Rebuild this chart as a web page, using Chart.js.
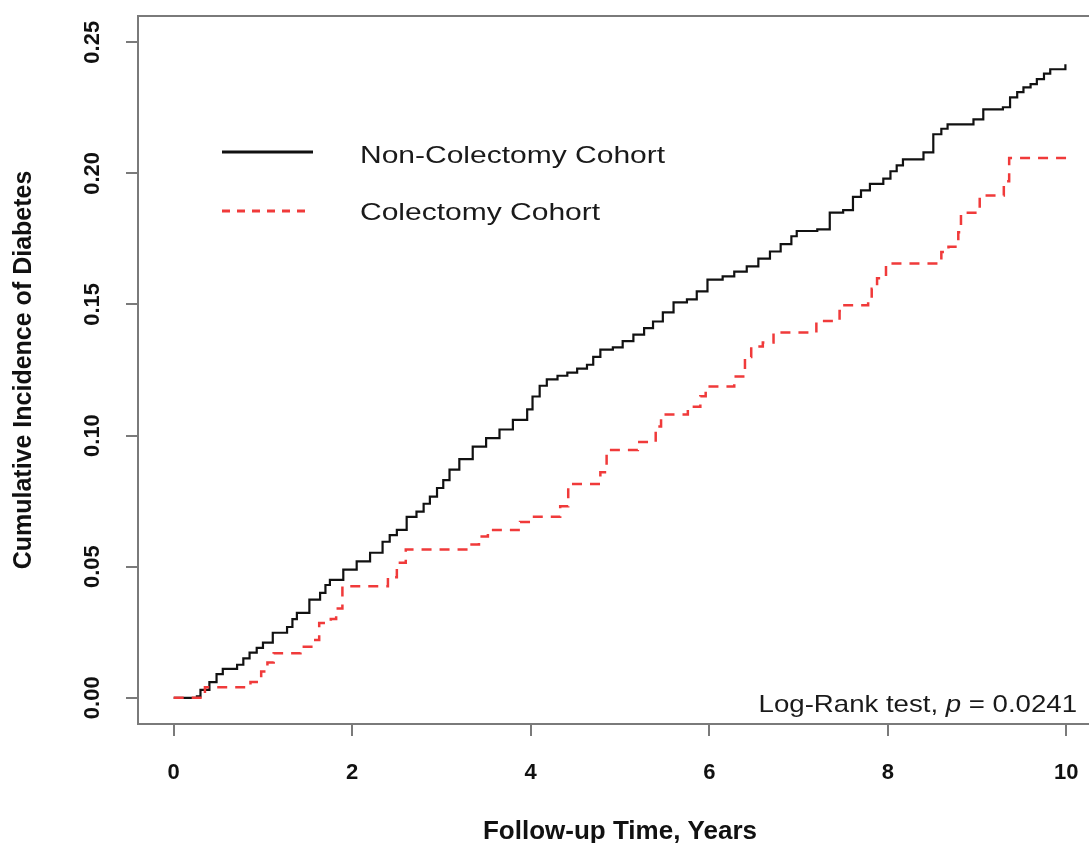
<!DOCTYPE html>
<html>
<head>
<meta charset="utf-8">
<title>Cumulative Incidence of Diabetes</title>
<script src="https://cdn.jsdelivr.net/npm/chart.js@4.4.1/dist/chart.umd.min.js"></script>
<style>
  html, body { margin: 0; padding: 0; background: #fff; overflow: hidden; }
  /* a bit wider than the window: the right edge of the plot box is cut off, as in the source figure */
  #kmChart { display: block; }
</style>
</head>
<body>
<canvas id="kmChart" width="1110" height="843"></canvas>
<script>
// follow-up time (years) and cumulative incidence
const nonColectomyTime = [0, 0.26, 0.30, 0.40, 0.48, 0.55, 0.71, 0.78, 0.85, 0.93, 1.00, 1.11, 1.27, 1.33, 1.38,
  1.52, 1.64, 1.70, 1.75, 1.90, 2.05, 2.20, 2.34, 2.42, 2.50, 2.61, 2.72, 2.80, 2.87, 2.95, 3.02, 3.09, 3.20,
  3.35, 3.50, 3.65, 3.80, 3.96, 4.02, 4.10, 4.18, 4.30, 4.41, 4.52, 4.63, 4.70, 4.78, 4.92, 5.03, 5.15, 5.27,
  5.37, 5.48, 5.60, 5.75, 5.86, 5.98, 6.15, 6.28, 6.42, 6.55, 6.68, 6.80, 6.92, 6.98, 7.21, 7.35, 7.50, 7.61,
  7.70, 7.80, 7.95, 8.03, 8.10, 8.17, 8.40, 8.51, 8.60, 8.67, 8.96, 9.07, 9.29, 9.37, 9.45, 9.52, 9.60, 9.67,
  9.75, 9.82, 9.96, 9.99];
const nonColectomyInc = [0, 0.0005, 0.003, 0.006, 0.009, 0.011, 0.0126, 0.015, 0.0172, 0.019, 0.021, 0.0248, 0.027, 0.030, 0.0324,
  0.0374, 0.040, 0.043, 0.045, 0.0489, 0.052, 0.0553, 0.0595, 0.062, 0.064, 0.069, 0.071, 0.074, 0.0767, 0.080, 0.083, 0.087, 0.091,
  0.0958, 0.099, 0.1023, 0.106, 0.110, 0.1149, 0.119, 0.1214, 0.1228, 0.124, 0.1255, 0.127, 0.130, 0.1328, 0.1336, 0.136, 0.1385, 0.141,
  0.1435, 0.147, 0.1508, 0.1519, 0.155, 0.1595, 0.1607, 0.1625, 0.1645, 0.1675, 0.1702, 0.173, 0.176, 0.178, 0.1786, 0.185, 0.186, 0.191,
  0.1935, 0.196, 0.198, 0.2008, 0.203, 0.2053, 0.208, 0.2149, 0.217, 0.2187, 0.2206, 0.2244, 0.2252, 0.229, 0.231, 0.2328, 0.234, 0.2359,
  0.238, 0.2397, 0.2397, 0.2416];

const colectomyTime = [0, 0.35, 0.86, 0.98, 1.05, 1.12, 1.42, 1.56, 1.63, 1.76, 1.82, 1.89, 2.40, 2.50, 2.60,
  3.30, 3.42, 3.52, 3.88, 4.00, 4.33, 4.42, 4.78, 4.85, 5.20, 5.40, 5.46, 5.76, 5.90, 5.96, 6.28, 6.40, 6.47,
  6.60, 6.72, 7.20, 7.46, 7.50, 7.78, 7.82, 7.88, 7.98, 8.60, 8.68, 8.79, 8.82, 9.03, 9.30, 9.36, 10.0];
const colectomyInc = [0, 0.004, 0.006, 0.010, 0.0135, 0.017, 0.0195, 0.022, 0.0285, 0.030, 0.034, 0.0425, 0.046, 0.0515, 0.0565,
  0.0585, 0.0615, 0.064, 0.067, 0.069, 0.073, 0.0815, 0.086, 0.0945, 0.0975, 0.1035, 0.108, 0.111, 0.115, 0.1187, 0.1225, 0.130, 0.134,
  0.1355, 0.1393, 0.1437, 0.1475, 0.1497, 0.1525, 0.156, 0.160, 0.1656, 0.170, 0.172, 0.1775, 0.185, 0.1915, 0.197, 0.2058, 0.2058];

const seriesLabels = ['Non-Colectomy Cohort', 'Colectomy Cohort'];
const xTicks = [0, 2, 4, 6, 8, 10];
const yTicks = [0, 0.05, 0.10, 0.15, 0.20, 0.25];
const pValue = '0.0241';

const FONT = '"Liberation Sans", Arial, Helvetica, sans-serif';
const GREY = '#7a7a7a';
Chart.defaults.font.family = FONT;

function toPoints(xs, ys) {
  return xs.map((x, i) => ({ x: x, y: ys[i] }));
}

// R-style box round the plot region
const boxPlugin = {
  id: 'plotBox',
  afterDraw(chart) {
    const { ctx, chartArea: a } = chart;
    ctx.save();
    ctx.strokeStyle = GREY;
    ctx.lineWidth = 2;
    ctx.strokeRect(a.left, a.top, a.right - a.left, a.bottom - a.top);
    ctx.restore();
  }
};

// legend inside the plot, top left (text a little stretched like the source)
const keyPlugin = {
  id: 'keyInside',
  afterDraw(chart) {
    const ctx = chart.ctx;
    const rows = [{ y: 152, end: 313, ty: 156 }, { y: 211, end: 305, ty: 213 }];
    chart.data.datasets.forEach((ds, i) => {
      const r = rows[i];
      ctx.save();
      ctx.strokeStyle = ds.borderColor;
      ctx.lineWidth = 3;
      ctx.setLineDash(i ? [8, 7] : []);
      ctx.beginPath();
      ctx.moveTo(222, r.y);
      ctx.lineTo(r.end, r.y);
      ctx.stroke();
      ctx.setLineDash([]);
      ctx.translate(360, r.ty);
      ctx.scale(1.25, 1);
      ctx.font = '24px ' + FONT;
      ctx.fillStyle = '#1a1a1a';
      ctx.textBaseline = 'middle';
      ctx.fillText(ds.label, 0, 0);
      ctx.restore();
    });
  }
};

// log-rank note, bottom right
const notePlugin = {
  id: 'logRankNote',
  afterDraw(chart) {
    const ctx = chart.ctx;
    const parts = [
      { t: 'Log-Rank test, ', f: '24px ' + FONT },
      { t: 'p', f: 'italic 24px ' + FONT },
      { t: ' = ' + pValue, f: '24px ' + FONT }
    ];
    const sx = 1.15;
    ctx.save();
    let total = 0;
    parts.forEach(p => { ctx.font = p.f; p.w = ctx.measureText(p.t).width; total += p.w; });
    ctx.translate(1077 - total * sx, 712);
    ctx.scale(sx, 1);
    ctx.fillStyle = '#1a1a1a';
    ctx.textBaseline = 'alphabetic';
    let x = 0;
    parts.forEach(p => { ctx.font = p.f; ctx.fillText(p.t, x, 0); x += p.w; });
    ctx.restore();
  }
};

const ctx = document.getElementById('kmChart');
new Chart(ctx, {
  type: 'line',
  data: {
    datasets: [
      {
        label: seriesLabels[0],
        data: toPoints(nonColectomyTime, nonColectomyInc),
        borderColor: '#111111',
        borderWidth: 2.2,
        stepped: 'before',
        pointRadius: 0,
        fill: false,
        order: 1
      },
      {
        label: seriesLabels[1],
        data: toPoints(colectomyTime, colectomyInc),
        borderColor: '#f03a3a',
        borderWidth: 2.5,
        borderDash: [10, 8],
        stepped: 'before',
        pointRadius: 0,
        fill: false,
        order: 0
      }
    ]
  },
  options: {
    responsive: false,
    animation: false,
    layout: { padding: { top: 16, right: 8, bottom: 0, left: 0 } },
    plugins: {
      legend: { display: false },
      tooltip: { enabled: false }
    },
    scales: {
      x: {
        type: 'linear',
        min: -0.4,
        max: 10.4,
        afterBuildTicks: s => { s.ticks = xTicks.map(v => ({ value: v })); },
        afterFit: s => { s.height = 119; s.paddingLeft = 0; s.paddingRight = 0; },
        grid: { drawOnChartArea: false, drawTicks: true, tickLength: 12, color: GREY, lineWidth: 2 },
        border: { display: true, color: GREY, width: 2 },
        ticks: {
          color: '#111',
          padding: 26,
          font: { size: 22, weight: 'bold', lineHeight: 1 },
          callback: v => String(v)
        },
        title: {
          display: true,
          text: 'Follow-up Time, Years',
          color: '#111',
          font: { size: 26, weight: 'bold', lineHeight: 1 },
          padding: { top: 0, bottom: -2 }
        }
      },
      y: {
        type: 'linear',
        min: -0.01,
        max: 0.26,
        afterBuildTicks: s => { s.ticks = yTicks.map(v => ({ value: v })); },
        afterFit: s => { s.width = 138; s.paddingTop = 0; s.paddingBottom = 0; },
        grid: { drawOnChartArea: false, drawTicks: true, tickLength: 12, color: GREY, lineWidth: 2 },
        border: { display: true, color: GREY, width: 2 },
        ticks: {
          color: '#111',
          padding: 12,
          minRotation: 90,
          maxRotation: 90,
          crossAlign: 'center',
          font: { size: 22, weight: 'bold', lineHeight: 1 },
          callback: v => Number(v).toFixed(2)
        },
        title: {
          display: true,
          text: 'Cumulative Incidence of Diabetes',
          color: '#111',
          font: { size: 25, weight: 'bold', lineHeight: 1 },
          padding: { top: 12, bottom: 0 },
          align: 'center'
        }
      }
    }
  },
  plugins: [boxPlugin, keyPlugin, notePlugin]
});
</script>
</body>
</html>
